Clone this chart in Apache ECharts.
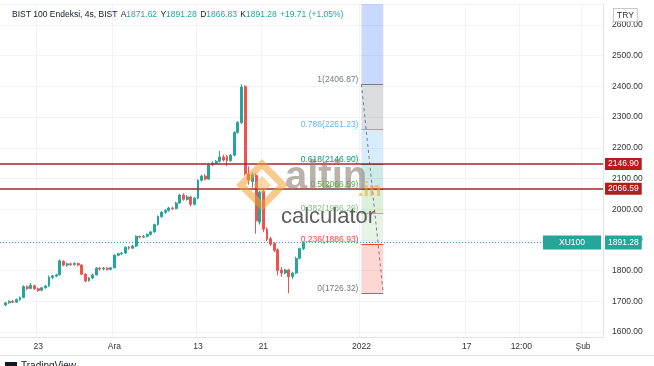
<!DOCTYPE html>
<html><head><meta charset="utf-8">
<script src="https://cdn.jsdelivr.net/npm/echarts@6/dist/echarts.min.js"></script>
<style>html,body{margin:0;padding:0;background:#fff}#c{width:654px;height:366px}</style>
</head><body><div id="c"></div>
<script>
// ---- data ----
const slotCount = 166;          // bar slots on the time axis (incl. future space)
const firstSlot = 1;            // slot of first candle
// [open, close, low, high]
const candles = [
[1688,1695,1684,1698],[1695,1700,1692,1703],[1700,1697,1694,1704],[1697,1706,1695,1709],
[1705,1712,1702,1716],[1712,1748,1710,1752],[1747,1742,1736,1752],[1742,1752,1739,1760],
[1751,1741,1737,1754],[1741,1735,1731,1745],[1736,1744,1733,1747],[1744,1750,1741,1753],
[1750,1778,1747,1784],[1778,1783,1772,1786],[1782,1786,1778,1790],[1786,1832,1784,1836],
[1830,1818,1814,1834],[1818,1822,1812,1826],[1822,1820,1815,1826],[1820,1823,1816,1827],
[1823,1818,1814,1826],[1818,1788,1785,1821],[1788,1766,1762,1792],[1767,1776,1764,1779],
[1776,1786,1772,1790],[1786,1808,1784,1812],[1808,1805,1800,1812],[1805,1808,1801,1812],
[1808,1804,1800,1811],[1804,1809,1801,1812],[1809,1850,1807,1853],[1850,1855,1846,1858],
[1855,1857,1850,1861],[1857,1876,1854,1879],[1876,1873,1868,1880],[1873,1880,1870,1884],
[1880,1912,1876,1915],[1911,1909,1905,1914],[1909,1912,1906,1916],[1912,1918,1908,1921],
[1918,1926,1914,1929],[1926,1950,1923,1953],[1950,1976,1946,1980],[1976,1990,1972,1994],
[1990,1996,1985,2000],[1996,2004,1992,2008],[2004,2002,1997,2008],[2002,2020,1999,2024],
[2020,2046,2017,2050],[2046,2032,2028,2052],[2032,2040,2028,2046],[2040,2016,2010,2044],
[2016,2036,2012,2040],[2036,2094,2032,2098],[2094,2108,2090,2112],[2108,2098,2094,2114],
[2098,2144,2096,2148],[2144,2150,2140,2156],[2150,2156,2146,2160],[2156,2170,2152,2190],
[2170,2160,2155,2178],[2172,2158,2140,2176],[2158,2176,2155,2180],[2176,2250,2172,2254],
[2250,2282,2246,2287],[2282,2398,2278,2406.87],[2400,2115,2110,2404],[2115,2095,2080,2140],
[2090,2112,2070,2120],[2110,1962,1920,2118],[1958,2055,1950,2060],[2058,1935,1925,2064],
[1935,1902,1896,1940],[1904,1886,1880,1910],[1888,1866,1860,1892],[1868,1800,1785,1872],
[1802,1792,1780,1812],[1792,1802,1788,1806],[1802,1780,1726.32,1806],[1780,1792,1772,1796],
[1792,1840,1788,1845],[1840,1871.62,1836,1875],[1871.62,1891.28,1866.83,1891.28]
];
const xTickIdx  = [10, 31, 54, 72, 99, 128, 143, 160];
const xTickText = ['23', 'Ara', '13', '21', '2022', '17', '12:00', 'Şub'];
const fibRatio  = ['1', '0.786', '0.618', '0.5', '0.382', '0.236', '0'];
const fibValue  = [2406.87, 2261.23, 2146.90, 2066.59, 1986.29, 1886.93, 1726.32];
const fibTopValue = 2720;
const fibStartSlot = 99, fibEndSlot = 105;
const hLineValues = [2146.90, 2066.59];
const lastPrice = 1891.28;
const legendTitle = 'BIST 100 Endeksi, 4s, BIST';
const legendKeys = ['A', 'Y', 'D', 'K'];
const legendVals = ['1871.62', '1891.28', '1866.83', '1891.28'];
const legendChange = '+19.71 (+1.05%)';
const yMin = 1583.7, yMax = 2668.4;

// ---- styles ----
const UP = '#26a69a', DOWN = '#ef5350', HL = '#a8232e';
const FONT = 'Liberation Sans, Arial, sans-serif';
const fibLineColors = ['#787b86','#64b5f6','#009688','#4caf50','#81c784','#f44336','#787b86'];
const fibFillColors = ['rgba(41,98,255,0.25)','rgba(120,123,134,0.26)','rgba(100,181,246,0.25)',
  'rgba(0,150,136,0.2)','rgba(76,175,80,0.2)','rgba(129,199,132,0.2)','rgba(244,67,54,0.21)'];

const categories = Array.from({length: slotCount}, (_, i) => String(i));
const seriesData = Array.from({length: firstSlot}, () => '-').concat(candles);
const tickMap = {}; xTickIdx.forEach((k, i) => tickMap[k] = xTickText[i]);
const isTick = (idx) => tickMap[idx] !== undefined;

const fibBounds = [fibTopValue].concat(fibValue);
const fibAreas = fibFillColors.map((c, i) => [
  {xAxis: fibStartSlot, yAxis: fibBounds[i], itemStyle: {color: c}},
  {xAxis: fibEndSlot, yAxis: fibBounds[i + 1]}
]);
const fibLines = fibValue.map((v, i) => [
  {coord: [fibStartSlot, v], name: fibRatio[i] + '(' + v.toFixed(2) + ')',
   lineStyle: {color: fibLineColors[i], width: 1, type: 'solid'},
   label: {show: true, position: 'start', formatter: '{b}', color: fibLineColors[i],
     fontSize: 8.5, fontFamily: FONT, distance: 3, align: 'right', verticalAlign: 'bottom'}},
  {coord: [fibEndSlot, v]}
]);
const trendLine = [[
  {coord: [fibStartSlot, fibValue[0]], lineStyle: {color: '#787b86', type: [3, 3], width: 1}, label: {show: false}},
  {coord: [fibEndSlot, fibValue[fibValue.length - 1]]}
]];
const redLines = hLineValues.map(v => ({
  yAxis: v, lineStyle: {color: HL, width: 1.5, type: 'solid'},
  label: {show: true, position: 'end', formatter: v.toFixed(2), color: '#fff', backgroundColor: '#b71c1c',
    padding: [2, 3, 1, 3], fontSize: 8.5, fontFamily: FONT, distance: 2}
}));
const priceLine = {
  yAxis: lastPrice, lineStyle: {color: UP, width: 1, type: [1, 2]},
  label: {show: true, position: 'end', distance: 0, offset: [-60, 0],
    formatter: '{a|XU100}{s|}{b|' + lastPrice.toFixed(2) + '}',
    rich: {
      a: {backgroundColor: UP, color: '#fff', width: 58, align: 'center', padding: [3, 0, 2, 0], fontSize: 8.5, fontFamily: FONT},
      s: {width: 4},
      b: {backgroundColor: UP, color: '#fff', padding: [3, 3, 2, 3], fontSize: 8.5, fontFamily: FONT}
    }}
};

const chart = echarts.init(document.getElementById('c'), null, {renderer: 'canvas'});
const legendRich = '{t|' + legendTitle + '} ' +
  legendKeys.map((k, i) => '{k|' + k + '}{v|' + legendVals[i] + '}').join(' ') + ' {v|' + legendChange + '}';

chart.setOption({
  animation: false,
  backgroundColor: '#fff',
  grid: {left: 0, right: 51, top: 4, bottom: 29, containLabel: false},
  xAxis: {
    type: 'category', data: categories, boundaryGap: true,
    axisLine: {show: true, lineStyle: {color: '#e0e3eb'}},
    axisTick: {show: false},
    axisLabel: {interval: isTick, formatter: (v, idx) => tickMap[idx] || '', color: '#333',
      fontSize: 8.5, fontFamily: FONT, margin: 5},
    splitLine: {show: true, interval: isTick, lineStyle: {color: '#f0f3fa'}}
  },
  yAxis: {
    type: 'value', position: 'right', min: yMin, max: yMax, scale: true,
    minInterval: 100, maxInterval: 100, splitNumber: 11,
    axisLine: {show: true, lineStyle: {color: '#e0e3eb'}},
    axisTick: {show: false},
    axisLabel: {color: '#333', fontSize: 8.5, fontFamily: FONT, margin: 9,
      showMinLabel: false, showMaxLabel: false, formatter: v => v.toFixed(2)},
    splitLine: {show: true, lineStyle: {color: '#f0f3fa'}}
  },
  series: [{
    type: 'candlestick', data: seriesData, barWidth: 2.4,
    itemStyle: {color: UP, color0: DOWN, borderColor: UP, borderColor0: DOWN, borderWidth: 1},
    markArea: {silent: true, data: fibAreas},
    markLine: {silent: true, symbol: ['none', 'none'], precision: 2,
      data: fibLines.concat(trendLine).concat(redLines).concat([priceLine])}
  }],
  graphic: [
    {type: 'text', left: 12, top: 9, z: 100, style: {text: legendRich, rich: {
      t: {fill: '#131722', fontSize: 8.5, fontFamily: FONT},
      k: {fill: '#131722', fontSize: 8.5, fontFamily: FONT},
      v: {fill: UP, fontSize: 8.5, fontFamily: FONT}}}},
    {type: 'text', left: 613, top: 8, z: 100, style: {text: 'TRY', fill: '#333', fontSize: 8.5, fontFamily: FONT,
      backgroundColor: '#fff', borderColor: '#c8c8c8', borderWidth: 1, padding: [2, 3, 1, 3]}},
    {type: 'polygon', z: 50, shape: {points: [[262,164],[283,185],[262,206],[241,185]]},
      style: {fill: 'rgba(0,0,0,0)', stroke: 'rgba(240,160,50,0.55)', lineWidth: 7}},
    {type: 'polygon', z: 50, shape: {points: [[262,176],[271,185],[262,194],[253,185]]},
      style: {fill: 'rgba(240,170,60,0.45)'}},
    {type: 'text', left: 285, top: 158, z: 50, style: {text: 'altin', fill: 'rgba(140,128,115,0.6)',
      fontSize: 40, fontWeight: 'bold', fontFamily: FONT}},
    {type: 'text', left: 358, top: 180, z: 50, style: {text: '.in', fill: 'rgba(245,166,35,0.6)',
      fontSize: 20, fontWeight: 'bold', fontFamily: FONT}},
    {type: 'text', left: 281, top: 206, z: 50, style: {text: 'calculator', fill: '#5e5e5e',
      fontSize: 22, fontFamily: FONT}},
    {type: 'line', z: 100, shape: {x1: 0, y1: 355.5, x2: 654, y2: 355.5}, style: {stroke: '#e0e3eb'}},
    {type: 'rect', z: 100, shape: {x: 5, y: 362, width: 12, height: 6}, style: {fill: '#131722'}},
    {type: 'text', left: 21, top: 361, z: 100, style: {text: 'TradingView', fill: '#131722', fontSize: 10, fontFamily: FONT}}
  ]
});
</script>
</body></html>
